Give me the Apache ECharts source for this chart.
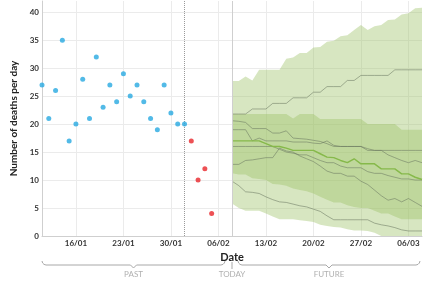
<!DOCTYPE html>
<html>
<head>
<meta charset="utf-8">
<script src="https://cdn.jsdelivr.net/npm/echarts@6/dist/echarts.min.js"></script>
<style>
  html, body { margin: 0; padding: 0; background: #fff; }
  #chartDom { width: 423px; height: 282px; }
</style>
</head>
<body>
<div id="chartDom"></div>
<script>
// days shown on the x axis
var dates = ['11/01','12/01','13/01','14/01','15/01','16/01','17/01','18/01','19/01','20/01',
  '21/01','22/01','23/01','24/01','25/01','26/01','27/01','28/01','29/01','30/01','31/01',
  '01/02','02/02','03/02','04/02','05/02','06/02','07/02','08/02','09/02','10/02','11/02',
  '12/02','13/02','14/02','15/02','16/02','17/02','18/02','19/02','20/02','21/02','22/02',
  '23/02','24/02','25/02','26/02','27/02','28/02','01/03','02/03','03/03','04/03','05/03',
  '06/03','07/03','08/03'];

var firstObserved = '11/01';
var firstRecent = '02/02';     // incomplete (red) data starts here
var cutoffDate = '01/02';      // dotted line
var todayDate = '08/02';       // projections start here

// reported deaths per day
var observed = [27, 21, 26, 35, 17, 20, 28, 21, 32, 23, 27, 24, 29, 25, 27, 24, 21, 19, 27, 22, 20, 20];
var recent = [17, 10, 12, 4];

// projection, 08/02 .. 08/03
var outerHigh = [27.7, 27.7, 28.5, 27.8, 29.7, 29.7, 29.7, 29.7, 31.7, 31.9, 32.7, 32.7, 33.7, 33.8, 34.7,
  34.9, 35.7, 35.9, 36.8, 37.7, 36.8, 37.5, 37.7, 38.6, 38.7, 39.6, 39.8, 40.7, 40.8];
var outerLow = [5.8, 5.0, 4.5, 4.5, 4.5, 4.0, 3.5, 3.0, 3.0, 3.0, 2.8, 2.7, 2.5, 2.0, 1.8,
  1.6, 1.5, 1.2, 1.0, 1.0, 0.9, 0.6, 0, 0, 0, 0, 0, 0, 0];
var innerHigh = [21.8, 21.8, 21.8, 21.8, 21.8, 21.8, 21.8, 21.8, 21.8, 21.0, 21.8, 21.8, 21.8, 20.9, 20.9,
  20.9, 20.9, 20.9, 20.9, 20.9, 20.0, 20.0, 20.0, 20.0, 20.0, 19.0, 19.0, 19.0, 19.0];
var innerLow = [11.2, 11.0, 11.0, 10.3, 10.2, 10.0, 9.3, 9.2, 9.0, 8.5, 8.2, 8.0, 7.6, 7.0, 6.5,
  6.0, 6.0, 5.5, 5.2, 5.0, 5.0, 4.5, 4.0, 4.0, 3.5, 3.0, 3.0, 3.0, 3.0];
var median = [17, 17, 17, 17, 17, 16.5, 16, 16, 15.7, 15.3, 15.3, 15.3, 15.3, 14.7, 14.1,
  14, 13.5, 13.1, 13.8, 12.9, 12.9, 12.9, 12, 12, 12, 11.1, 11.1, 10.5, 10.1];

// a few sample trajectories
var trajA = [21.8, 21.8, 21.8, 22.7, 22.7, 22.7, 23.7, 23.7, 23.7, 24.7, 24.7, 24.7, 25.7, 25.7, 26.7,
  26.7, 26.7, 27.8, 27.8, 28.7, 28.7, 28.7, 28.7, 28.7, 29.7, 29.7, 29.7, 29.7, 29.7];
var trajB = [20.6, 20.5, 20.3, 19.2, 19.2, 19.2, 18.4, 18.4, 18.8, 17.5, 17.4, 17.3, 17.1, 16.9, 16.5,
  16, 16, 16, 16, 16, 15.3, 15.3, 15.3, 15.3, 15.3, 15.3, 15.3, 15.3, 15.3];
var trajC = [19, 19, 19, 17, 17.5, 17, 17, 17, 17, 16.8, 16.8, 16.8, 16.6, 16.5, 17,
  16.2, 16, 16, 16, 16, 15.6, 15.3, 15.3, 14.5, 14, 13.5, 13.1, 13.5, 13.1];
var trajD = [16, 16, 16, 16, 16, 16, 16, 15.5, 15, 14.8, 14.5, 14.5, 14, 13.5, 13.1,
  13.1, 12.5, 12.2, 12.2, 12.2, 11.5, 11.2, 11.2, 10.8, 10.5, 10.2, 10.2, 10, 10];
var trajE = [12.8, 12.8, 13.5, 13.6, 13.8, 14, 14, 15.7, 15.2, 15, 14.3, 13.8, 13.3, 12.5, 11.6,
  11.2, 11.2, 10.7, 10.7, 9.8, 9.2, 8.2, 7.2, 6.4, 6.7, 6.1, 6.7, 6, 5.3];
var trajF = [9.8, 9, 7.9, 7.8, 7.6, 7, 6.5, 6.1, 6, 5.7, 5.4, 5.2, 4.8, 4.4, 3.6,
  2.9, 2.9, 2.9, 2.9, 2.9, 2.9, 2.3, 2, 1.8, 1.5, 1.1, 0.9, 0.9, 0.9];

var weekLabels = ['16/01', '23/01', '30/01', '06/02', '13/02', '20/02', '27/02', '06/03'];

// put a list on the date axis, starting at a given date
function onDates(vals, start) {
  var s = dates.indexOf(start), out = [];
  for (var i = 0; i < dates.length; i++) {
    out.push(i >= s && i - s < vals.length ? vals[i - s] : '-');
  }
  return out;
}
function diff(hi, lo) {
  return hi.map(function (v, i) { return +(v - lo[i]).toFixed(2); });
}
function isWeek(index) { return weekLabels.indexOf(dates[index]) >= 0; }

var font = 'Lato';
var bandColor = 'rgba(155,192,100,0.4)';
var trajStyle = { color: 'rgba(105,118,95,0.6)', width: 0.9 };

function traj(vals) {
  return {
    type: 'line', data: onDates(vals, todayDate), symbol: 'none', silent: true,
    lineStyle: trajStyle, z: 3
  };
}

var chart = echarts.init(document.getElementById('chartDom'));

var option = {
  animation: false,
  grid: { left: 42, right: 1, top: 1, bottom: 46 },
  xAxis: {
    type: 'category', data: dates, boundaryGap: false,
    axisLine: { lineStyle: { color: '#cfcfcf' } },
    axisTick: { show: false },
    axisLabel: {
      interval: function (i) { return isWeek(i); },
      color: '#333', fontSize: 8, fontWeight: 'bold', fontFamily: font, margin: 3
    },
    splitLine: {
      show: true, interval: function (i) { return isWeek(i); },
      lineStyle: { color: '#ebebeb' }
    },
    name: 'Date', nameLocation: 'middle', nameGap: 11,
    nameTextStyle: { fontSize: 11, fontWeight: 'bold', color: '#222', fontFamily: font }
  },
  yAxis: {
    type: 'value', min: 0, max: 42, interval: 5,
    axisLine: { show: true, lineStyle: { color: '#cfcfcf' } },
    axisTick: { show: false },
    axisLabel: {
      formatter: function (v) { return v % 5 === 0 ? v : ''; },
      color: '#333', fontSize: 8, fontWeight: 'bold', fontFamily: font, margin: 3
    },
    splitLine: { lineStyle: { color: '#ebebeb' }, showMaxLine: false },
    name: 'Number of deaths per day', nameLocation: 'middle', nameGap: 22,
    nameTextStyle: { fontSize: 10, fontWeight: 'bold', color: '#222', fontFamily: font }
  },
  series: [
    { type: 'line', stack: 'outer', data: onDates(outerLow, todayDate), symbol: 'none',
      lineStyle: { width: 0 }, silent: true },
    { type: 'line', stack: 'outer', data: onDates(diff(outerHigh, outerLow), todayDate), symbol: 'none',
      lineStyle: { width: 0 }, areaStyle: { color: bandColor, opacity: 1 }, silent: true },
    { type: 'line', stack: 'inner', data: onDates(innerLow, todayDate), symbol: 'none',
      lineStyle: { width: 0 }, silent: true },
    { type: 'line', stack: 'inner', data: onDates(diff(innerHigh, innerLow), todayDate), symbol: 'none',
      lineStyle: { width: 0 }, areaStyle: { color: bandColor, opacity: 1 }, silent: true },
    traj(trajA), traj(trajB), traj(trajC), traj(trajD), traj(trajE), traj(trajF),
    { type: 'line', data: onDates(median, todayDate), symbol: 'none', silent: true, z: 4,
      lineStyle: { color: '#86b94a', width: 1.4 } },
    {
      type: 'scatter', data: onDates(observed, firstObserved), symbolSize: 5, z: 5,
      itemStyle: { color: '#27a9e1' },
      markLine: {
        silent: true, symbol: ['none', 'none'], label: { show: false },
        data: [
          { xAxis: cutoffDate, lineStyle: { type: 'dotted', color: '#9a9a9a', width: 1 } },
          { xAxis: todayDate, lineStyle: { type: 'solid', color: '#cfcfcf', width: 1 } }
        ]
      }
    },
    { type: 'scatter', data: onDates(recent, firstRecent), symbolSize: 5, z: 5,
      itemStyle: { color: '#e8262a' } }
  ]
};
chart.setOption(option);

// PAST / TODAY / FUTURE braces under the axis
function px(d) { return chart.convertToPixel({ xAxisIndex: 0 }, d); }
function brace(x1, x2, y) {
  var m = (x1 + x2) / 2;
  return {
    type: 'polyline', silent: true,
    shape: { points: [[x1, y - 4], [x1 + 0.6, y - 2], [x1 + 2, y - 0.6], [x1 + 4, y], [m - 3, y], [m, y + 3],
      [m + 3, y], [x2 - 4, y], [x2 - 2, y - 0.6], [x2 - 0.6, y - 2], [x2, y - 4]] },
    style: { stroke: '#a8a8a8', lineWidth: 1, fill: null }
  };
}
function tag(text, x, y) {
  return {
    type: 'text', silent: true, x: x, y: y,
    style: { text: text, fill: '#b0b0b0', fontSize: 8, fontFamily: font, align: 'center', verticalAlign: 'middle' }
  };
}
var xStart = px(dates[0]), xToday = px(todayDate), xEnd = px(dates[dates.length - 1]);
var braceY = 265, tagY = 274;
chart.setOption({
  graphic: [
    brace(xStart, xToday - 7, braceY),
    brace(xToday + 6, xEnd - 2, braceY),
    { type: 'line', silent: true, shape: { x1: xToday, y1: braceY - 3, x2: xToday, y2: braceY + 4 },
      style: { stroke: '#a8a8a8', lineWidth: 1 } },
    tag('PAST', (xStart + xToday - 7) / 2, tagY),
    tag('TODAY', xToday, tagY),
    tag('FUTURE', (xToday + 6 + xEnd - 2) / 2, tagY)
  ]
});
</script>
</body>
</html>
